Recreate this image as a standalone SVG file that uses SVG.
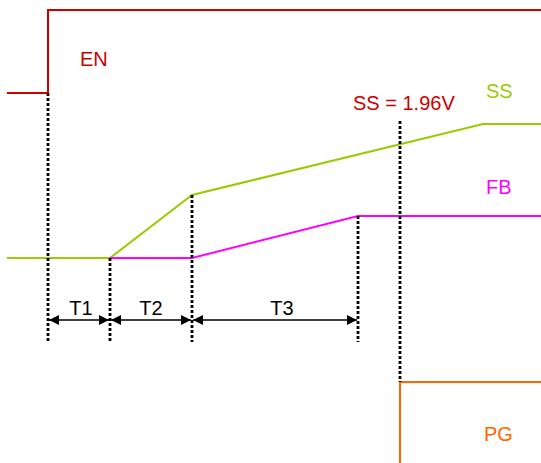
<svg xmlns="http://www.w3.org/2000/svg" width="541" height="463" viewBox="0 0 541 463">
<defs>
<style>
.lbl{font-family:"Liberation Sans",Arial,sans-serif;font-size:20px}
.dot{stroke:#000;stroke-width:2.8;stroke-dasharray:3 2;fill:none}
.sig{fill:none;stroke-width:2}
.dim{stroke:#000;stroke-width:1.5;fill:none;marker-start:url(#ah);marker-end:url(#ah)}
</style>
<marker id="ah" viewBox="0 0 10 10" refX="10" refY="5" markerWidth="11" markerHeight="10" markerUnits="userSpaceOnUse" orient="auto-start-reverse">
<path d="M0,0 L10,5 L0,10 Z" fill="#000"/>
</marker>
</defs>
<rect width="541" height="463" fill="#fff"/>
<g id="signals">
<g id="EN"><polyline class="sig" stroke="#cc0000" points="7,93 48,93 48,10 541,10"/><text class="lbl" x="80" y="66" fill="#cc0000">EN</text></g>
<g id="SS"><polyline class="sig" stroke="#99cc00" points="7,258 110,258 192,195 483,124 541,124"/><text class="lbl" x="486" y="98" fill="#99cc00">SS</text></g>
<g id="FB"><polyline class="sig" stroke="#ff00ff" points="110,258 192,258 358,216 541,216"/><text class="lbl" x="486" y="194" fill="#ff00ff">FB</text></g>
<g id="PG"><polyline class="sig" stroke="#ff6600" points="400,463 400,382 541,382"/><text class="lbl" x="484" y="441" fill="#ff6600">PG</text></g>
<g id="SSV"><text class="lbl" x="353" y="110" fill="#cc0000">SS = 1.96V</text></g>
</g>
<g id="connectors">
<line class="dot" x1="48" y1="93" x2="48" y2="342"/>
<line class="dot" x1="110" y1="258" x2="110" y2="342"/>
<line class="dot" x1="192" y1="195" x2="192" y2="342"/>
<line class="dot" x1="358" y1="216" x2="358" y2="342"/>
<line class="dot" x1="400" y1="121" x2="400" y2="382"/>
<line class="dim" x1="49" y1="320" x2="109" y2="320"/>
<line class="dim" x1="111" y1="320" x2="191" y2="320"/>
<line class="dim" x1="193" y1="320" x2="357" y2="320"/>
</g>
<g id="dimlabels">
<text class="lbl" x="81" y="315" text-anchor="middle" fill="#000">T1</text>
<text class="lbl" x="151" y="315" text-anchor="middle" fill="#000">T2</text>
<text class="lbl" x="282" y="315" text-anchor="middle" fill="#000">T3</text>
</g>
</svg>
